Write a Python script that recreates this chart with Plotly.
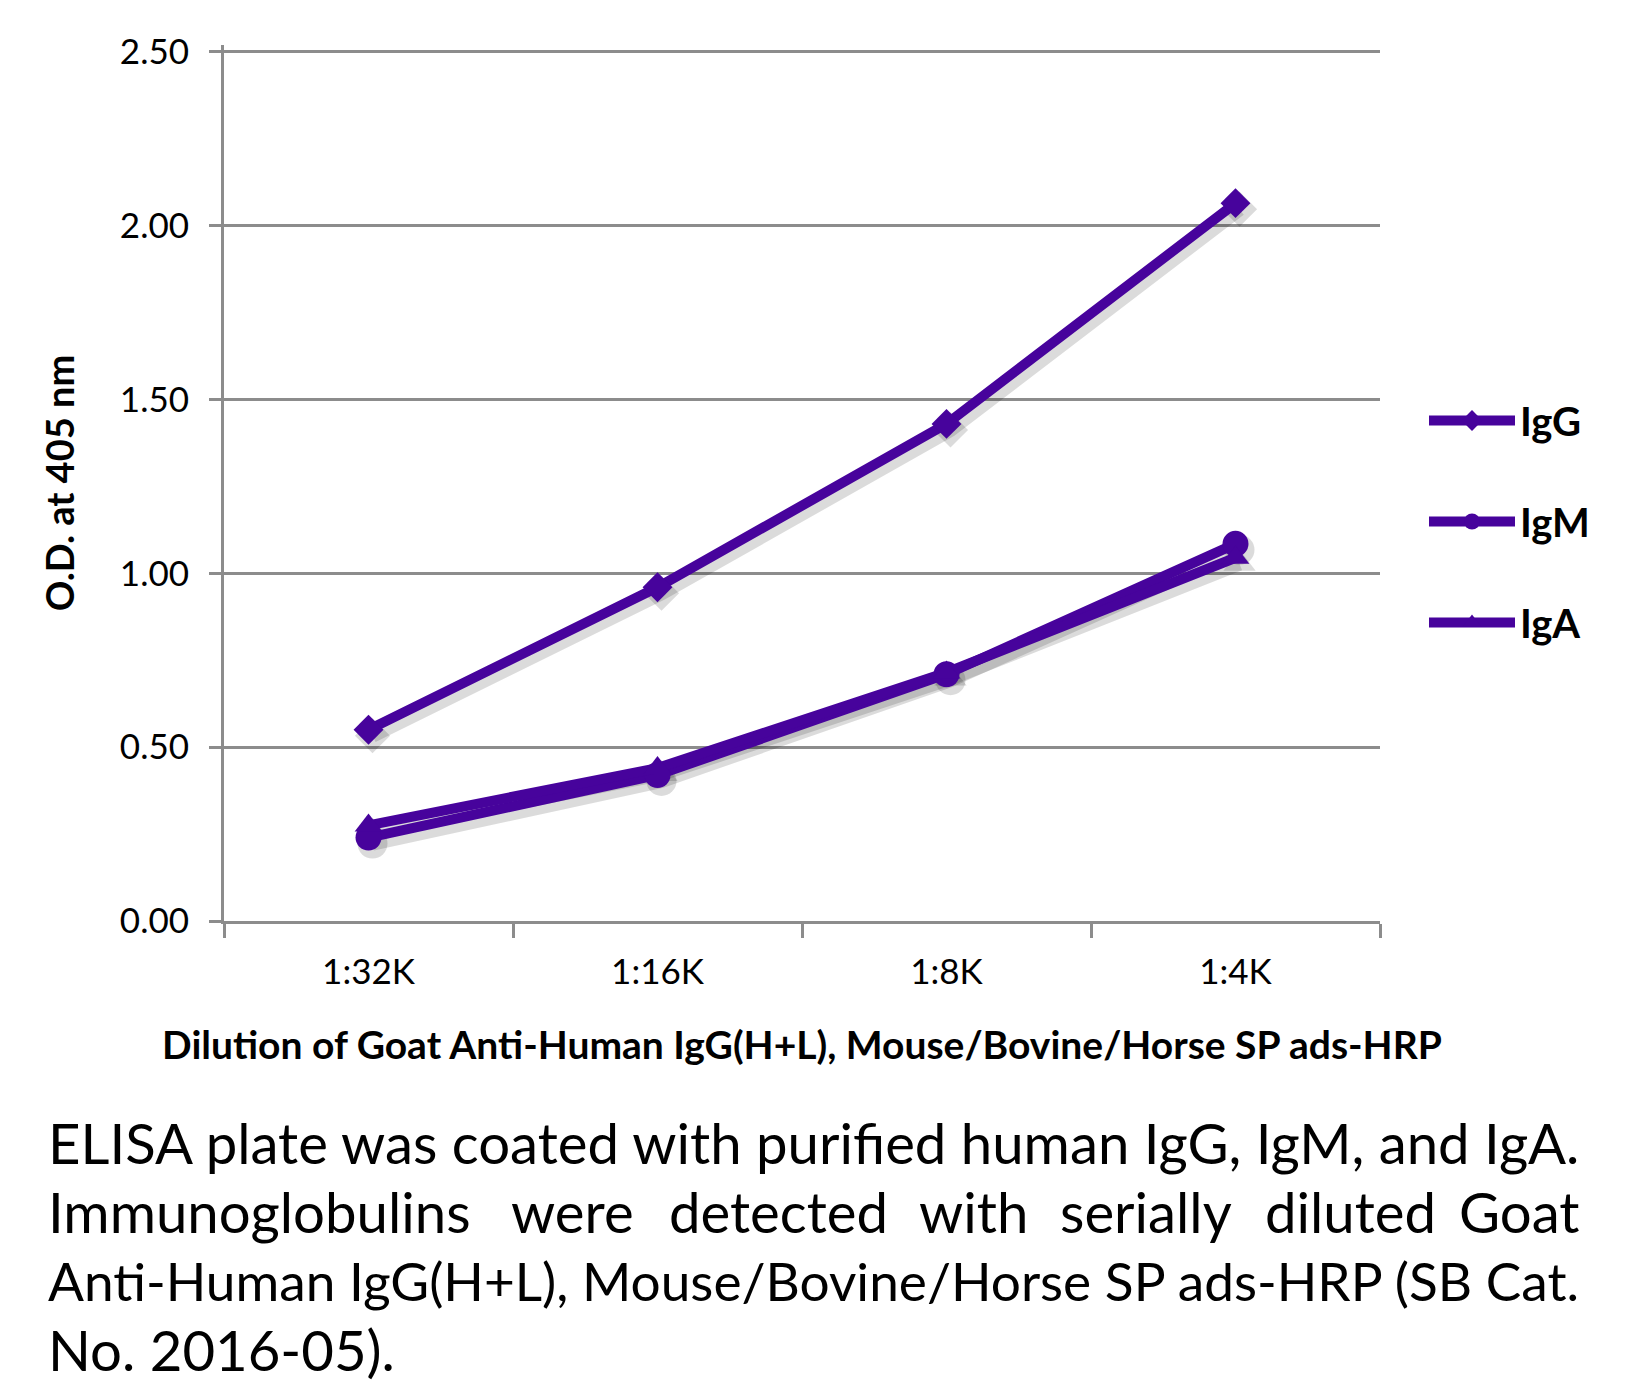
import plotly.graph_objects as go

categories = ["1:32K", "1:16K", "1:8K", "1:4K"]
igg = [0.55, 0.96, 1.43, 2.065]
igm = [0.24, 0.42, 0.71, 1.085]
iga = [0.275, 0.44, 0.715, 1.045]
y_ticks = [0.0, 0.5, 1.0, 1.5, 2.0, 2.5]
y_tick_labels = ["0.00", "0.50", "1.00", "1.50", "2.00", "2.50"]

W, H = 1626, 1382
L, R, B = 216, 1372, 913
Y_TOP_VAL = 2.5       # value of the top gridline
Y_TOP_PX = 44         # pixel of the top gridline
Y_MAX = 2.52          # range max (slightly above so top gridline shows)
px_per_unit = (B - Y_TOP_PX) / Y_TOP_VAL
T = Y_TOP_PX - (Y_MAX - Y_TOP_VAL) * px_per_unit
px_per_cat = (R - L) / 4.0

COLOR = "#47039C"
GRID = "#8C8C8C"
FONT = "Lato"
SHADOW = "rgba(0,0,0,0.14)"
SDX, SDY = 4, 6  # shadow offset in px

fig = go.Figure()
series = [("IgG", igg, "diamond", 23), ("IgM", igm, "circle", 26), ("IgA", iga, "triangle-up", 24)]
# shadows on the (hidden) base axes, shifted by a few pixels
for name, vals, sym, sz in series:
    fig.add_trace(go.Scatter(
        x=categories, y=vals, mode="lines+markers", showlegend=False, hoverinfo="skip",
        line=dict(color=SHADOW, width=14),
        marker=dict(symbol=sym, size=sz + 4, color=SHADOW),
        xaxis="x", yaxis="y",
    ))
for name, vals, sym, sz in series:
    fig.add_trace(go.Scatter(
        x=categories, y=vals, name=name, mode="lines+markers",
        line=dict(color=COLOR, width=10),
        marker=dict(symbol=sym, size=sz, color=COLOR),
        legendgroup=name, xaxis="x2", yaxis="y2",
    ))

fig.update_layout(
    width=W, height=H, autosize=False,
    margin=dict(l=L, r=W - R, t=T, b=H - B, pad=0),
    paper_bgcolor="white", plot_bgcolor="white",
    font=dict(family=FONT, color="black"),
    showlegend=True,
    legend=dict(
        xref="container", yref="container",
        x=1416 / W, y=1 - 380 / H, xanchor="left", yanchor="top",
        font=dict(family=FONT, size=40, weight="bold", color="black"),
        itemwidth=86, tracegroupgap=46, bgcolor="rgba(0,0,0,0)",
    ),
    xaxis=dict(
        type="category", range=[-0.5 - SDX / px_per_cat, 3.5 - SDX / px_per_cat],
        visible=False, showgrid=False, zeroline=False,
    ),
    yaxis=dict(
        range=[0 + SDY / px_per_unit, Y_MAX + SDY / px_per_unit],
        visible=False, showgrid=False, zeroline=False,
    ),
    xaxis2=dict(
        type="category", range=[-0.5, 3.5], tickson="boundaries",
        overlaying="x", anchor="y2", side="bottom",
        showline=True, linecolor=GRID, linewidth=3,
        ticks="outside", ticklen=14, tickwidth=3, tickcolor=GRID,
        ticklabelstandoff=18,
        showgrid=False, zeroline=False,
        tickfont=dict(family=FONT, size=35, color="black"),
        title=dict(text="Dilution of Goat Anti-Human IgG(H+L), Mouse/Bovine/Horse SP ads-HRP",
                   font=dict(family=FONT, size=39, weight="bold", color="black"), standoff=42),
    ),
    yaxis2=dict(
        range=[0, Y_MAX], tickvals=y_ticks, ticktext=y_tick_labels,
        overlaying="y", anchor="x2", side="left",
        showline=True, linecolor=GRID, linewidth=3,
        ticks="outside", ticklen=12, tickwidth=3, tickcolor=GRID,
        ticklabelstandoff=13,
        showgrid=True, gridcolor=GRID, gridwidth=3, zeroline=False,
        tickfont=dict(family=FONT, size=35, color="black"),
        title=dict(text="O.D. at 405 nm", font=dict(family=FONT, size=38, weight="bold", color="black"),
                   standoff=34),
    ),
)

def px(x):
    return (x - L) / (R - L)

def py(y):
    return (B - y) / (B - T)

cap_font = dict(family=FONT, size=56.3, color="black")
cap_font3 = dict(family=FONT, size=53.2, color="black")
left_x, right_x = 38, 1574
lines_y = [1134, 1203, 1272, 1341]
fig.add_annotation(text="ELISA plate was coated with purified human IgG, IgM, and IgA.",
                   x=px(left_x), y=py(lines_y[0]), xref="paper", yref="paper",
                   xanchor="left", yanchor="middle", showarrow=False, font=cap_font)
words2 = ["Immunoglobulins", "were", "detected", "with", "serially", "diluted", "Goat"]
centers2 = [None, 564, 770, 966, 1138, 1342, None]
for i, w in enumerate(words2):
    if i == 0:
        xa, xx = "left", left_x
    elif i == len(words2) - 1:
        xa, xx = "right", right_x
    else:
        xa, xx = "center", centers2[i]
    fig.add_annotation(text=w, x=px(xx), y=py(lines_y[1]), xref="paper", yref="paper",
                       xanchor=xa, yanchor="middle", showarrow=False, font=cap_font)
fig.add_annotation(text="Anti-Human IgG(H+L), Mouse/Bovine/Horse SP ads-HRP (SB Cat.",
                   x=px(left_x), y=py(lines_y[2]), xref="paper", yref="paper",
                   xanchor="left", yanchor="middle", showarrow=False, font=cap_font3)
fig.add_annotation(text="No. 2016-05).",
                   x=px(left_x), y=py(lines_y[3]), xref="paper", yref="paper",
                   xanchor="left", yanchor="middle", showarrow=False, font=cap_font)

fig.write_html("out.html")
